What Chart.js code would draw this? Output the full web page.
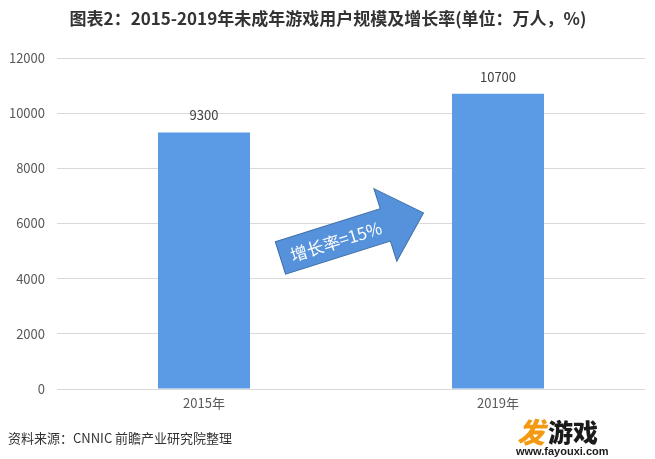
<!DOCTYPE html>
<html>
<head>
<meta charset="utf-8">
<script src="https://cdn.jsdelivr.net/npm/chart.js@4/dist/chart.umd.min.js"></script>
<style>
  html, body { margin: 0; padding: 0; background: #ffffff; }
  #wrap { width: 655px; height: 459px; position: relative; }
</style>
</head>
<body>
<div id="wrap"><canvas id="c" width="655" height="459"></canvas></div>
<script>
// ---- data ----
const categories = ['2015年', '2019年'];
const users = [9300, 10700];
const yTicks = [0, 2000, 4000, 6000, 8000, 10000, 12000];
const growthLabel = '增长率=15%';
const titleText = '图表2：2015-2019年未成年游戏用户规模及增长率(单位：万人，%)';
const sourceText = '资料来源：CNNIC 前瞻产业研究院整理';

const CJK = '"Noto Sans CJK SC", "Noto Sans", sans-serif';

// arrow anchored to the scales (category fraction, y value)
const arrowTail = { cat: 0.26, value: 4750 };
const arrowShape = { angleDeg: -17.5, length: 150, headLen: 40, shaftW: 34, headW: 76 };

const overlay = {
  id: 'overlay',
  afterDatasetsDraw(chart) {
    const ctx = chart.ctx;
    const xs = chart.scales.x, ys = chart.scales.y;
    // value labels
    const meta = chart.getDatasetMeta(0);
    ctx.save();
    ctx.font = '13px ' + CJK;
    ctx.fillStyle = '#404040';
    ctx.textAlign = 'center';
    ctx.textBaseline = 'middle';
    meta.data.forEach((bar, i) => {
      ctx.fillText(String(users[i]), bar.x, bar.y - 17);
    });
    ctx.restore();

    // arrow
    const x0 = xs.getPixelForValue(0), x1 = xs.getPixelForValue(1);
    const tx = x0 + (x1 - x0) * arrowTail.cat;
    const ty = ys.getPixelForValue(arrowTail.value);
    const a = arrowShape.angleDeg * Math.PI / 180;
    const L = arrowShape.length, hl = arrowShape.headLen;
    const sw = arrowShape.shaftW / 2, hw = arrowShape.headW / 2;
    ctx.save();
    ctx.translate(tx, ty);
    ctx.rotate(a);
    ctx.beginPath();
    ctx.moveTo(0, -sw);
    ctx.lineTo(L - hl, -sw);
    ctx.lineTo(L - hl, -hw);
    ctx.lineTo(L, 0);
    ctx.lineTo(L - hl, hw);
    ctx.lineTo(L - hl, sw);
    ctx.lineTo(0, sw);
    ctx.closePath();
    ctx.fillStyle = '#5691DB';
    ctx.fill();
    ctx.lineWidth = 1;
    ctx.strokeStyle = '#3F6FA8';
    ctx.stroke();
    ctx.font = '17px ' + CJK;
    ctx.fillStyle = '#ffffff';
    ctx.textAlign = 'center';
    ctx.textBaseline = 'middle';
    ctx.fillText(growthLabel, 58, 1);
    ctx.restore();
  },
  afterDraw(chart) {
    const ctx = chart.ctx;
    ctx.save();
    // title
    ctx.font = 'bold 17px ' + CJK;
    ctx.fillStyle = '#333333';
    ctx.textAlign = 'center';
    ctx.textBaseline = 'middle';
    ctx.fillText(titleText, 328, 19);
    // source
    ctx.font = '13px ' + CJK;
    ctx.fillStyle = '#333333';
    ctx.textAlign = 'left';
    ctx.fillText(sourceText, 8, 438);
    // site stamp
    ctx.fillStyle = '#ffffff';
    ctx.fillRect(508, 412, 102, 47);
    ctx.font = 'italic 900 28px ' + CJK;
    ctx.fillStyle = '#F39A12';
    ctx.fillText('发', 517, 432);
    ctx.font = '900 25px ' + CJK;
    ctx.fillStyle = '#1a1a1a';
    ctx.fillText('游戏', 548, 432);
    ctx.font = 'bold 11px "Liberation Sans", Arial, sans-serif';
    ctx.fillText('www.fayouxi.com', 516, 452);
    ctx.restore();
  }
};

new Chart(document.getElementById('c'), {
  type: 'bar',
  data: {
    labels: categories,
    datasets: [{
      data: users,
      backgroundColor: '#5B9BE6',
      borderWidth: 0,
      barPercentage: 0.313,
      categoryPercentage: 1.0
    }]
  },
  options: {
    responsive: false,
    animation: false,
    devicePixelRatio: 1,
    layout: { padding: { top: 58, right: 10, bottom: 40, left: 0 } },
    plugins: {
      legend: { display: false },
      title: { display: false },
      tooltip: { enabled: false }
    },
    scales: {
      x: {
        grid: { display: false, drawTicks: false },
        border: { display: false },
        ticks: {
          color: '#595959',
          font: { family: CJK, size: 13 },
          padding: 6
        },
        afterFit(s) { s.height = 30; }
      },
      y: {
        min: 0,
        max: 12000,
        afterBuildTicks(s) { s.ticks = yTicks.map(v => ({ value: v })); },
        grid: { color: '#D9D9D9', lineWidth: 1, drawTicks: false },
        border: { display: false },
        ticks: {
          color: '#595959',
          font: { family: CJK, size: 13 },
          padding: 12,
          callback: (v) => String(v)
        },
        afterFit(s) { s.width = 57; }
      }
    }
  },
  plugins: [overlay]
});
</script>
</body>
</html>
